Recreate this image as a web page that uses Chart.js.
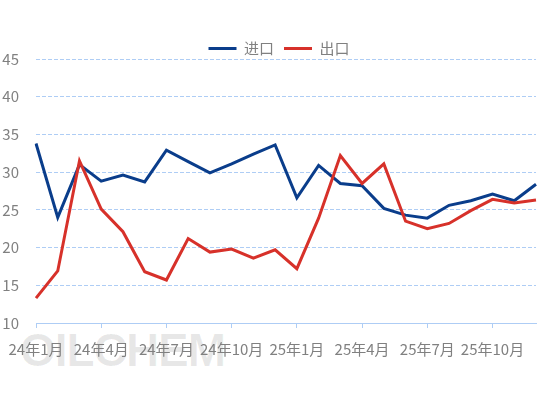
<!DOCTYPE html>
<html>
<head>
<meta charset="utf-8">
<script src="https://cdn.jsdelivr.net/npm/chart.js@4/dist/chart.umd.min.js"></script>
<style>
    html, body { margin: 0; padding: 0; background: #fff; }
    #wrap { position: relative; width: 554px; height: 398px; }
    #mark {
        position: absolute; left: 20px; top: 327px;
        font: bold 46px/46px "Liberation Sans", Arial, sans-serif;
        letter-spacing: -1px;
        color: rgba(0, 0, 0, 0.09);
        z-index: 0;
    }
    canvas { position: relative; z-index: 1; }
</style>
</head>
<body>
<div id="wrap">
    <div id="mark">OILCHEM</div>
    <canvas id="chart" width="554" height="398"></canvas>
</div>
<script>
// Monthly data, Jan 2024 - Dec 2025
const months = ['24年1月', '24年2月', '24年3月', '24年4月', '24年5月', '24年6月',
    '24年7月', '24年8月', '24年9月', '24年10月', '24年11月', '24年12月',
    '25年1月', '25年2月', '25年3月', '25年4月', '25年5月', '25年6月',
    '25年7月', '25年8月', '25年9月', '25年10月', '25年11月', '25年12月'];
const importData = [33.8, 24.0, 31.0, 28.8, 29.6, 28.7, 32.9, 31.4, 29.9, 31.1, 32.4, 33.6,
    26.6, 30.9, 28.5, 28.2, 25.2, 24.3, 23.9, 25.6, 26.2, 27.1, 26.2, 28.4];
const exportData = [13.3, 16.9, 31.5, 25.1, 22.1, 16.8, 15.7, 21.2, 19.4, 19.8, 18.6, 19.7,
    17.2, 23.9, 32.2, 28.5, 31.1, 23.5, 22.5, 23.2, 24.9, 26.4, 25.9, 26.3];
const yTicks = { min: 10, max: 45, step: 5 };

const gridBlue = '#aecdf5';
const textGray = '#808080';
const cjkFont = '"Noto Sans CJK SC", "Microsoft YaHei", sans-serif';

// legend sits a little right of the plot centre in the original
const legendShift = {
    id: 'legendShift',
    afterLayout(chart) {
        chart.legend.left += 11;
        chart.legend.right += 11;
    }
};

new Chart(document.getElementById('chart'), {
    type: 'line',
    data: {
        labels: months,
        datasets: [{
            label: '进口',
            data: importData,
            borderColor: '#0a3d8b',
            backgroundColor: '#0a3d8b',
            borderWidth: 3,
            pointRadius: 0,
            tension: 0,
            order: 1
        }, {
            label: '出口',
            data: exportData,
            borderColor: '#d7312a',
            backgroundColor: '#d7312a',
            borderWidth: 3,
            pointRadius: 0,
            tension: 0,
            order: 0
        }]
    },
    options: {
        responsive: false,
        animation: false,
        layout: { padding: { left: 0, right: 18, top: 31, bottom: 0 } },
        plugins: {
            tooltip: { enabled: false },
            legend: {
                position: 'top',
                align: 'center',
                maxHeight: 28,
                labels: {
                    usePointStyle: true,
                    pointStyle: 'line',
                    pointStyleWidth: 28,
                    padding: 10,
                    color: textGray,
                    font: { family: cjkFont, size: 15 },
                    sort: (a, b) => a.datasetIndex - b.datasetIndex
                }
            }
        },
        scales: {
            x: {
                type: 'category',
                offset: false,
                afterFit: function (scale) {
                    scale.height = 75;
                    scale.paddingLeft = 0;
                    scale.paddingRight = 0;
                },
                grid: {
                    display: true,
                    drawOnChartArea: false,
                    drawTicks: true,
                    tickLength: 5,
                    color: gridBlue
                },
                border: { display: true, color: gridBlue, width: 1 },
                ticks: {
                    autoSkip: false,
                    maxRotation: 0,
                    padding: 12,
                    color: textGray,
                    font: { family: cjkFont, size: 15 },
                    callback: function (value, index) {
                        return index % 3 === 0 ? this.getLabelForValue(value) : null;
                    }
                }
            },
            y: {
                min: yTicks.min,
                max: yTicks.max,
                afterFit: function (scale) { scale.width = 36; },
                grid: {
                    color: gridBlue,
                    drawTicks: false
                },
                border: { display: false, dash: [4, 2] },
                ticks: {
                    stepSize: yTicks.step,
                    padding: 17,
                    color: textGray,
                    font: { family: cjkFont, size: 15 }
                }
            }
        }
    },
    plugins: [legendShift]
});
</script>
</body>
</html>
